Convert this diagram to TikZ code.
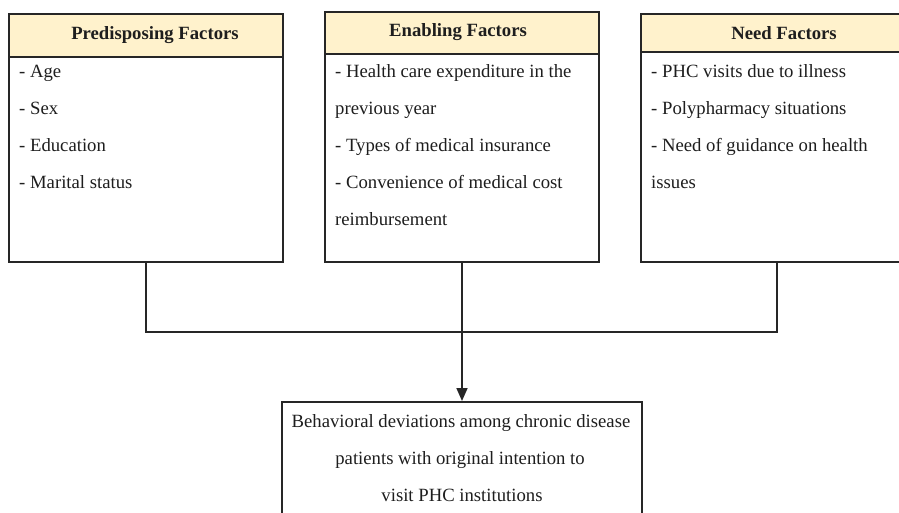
\documentclass[tikz,border=0pt]{standalone}
\usepackage{fontspec}
\setmainfont{Liberation Serif}
\usetikzlibrary{arrows.meta}
\definecolor{hdrfill}{RGB}{255,242,204}
\definecolor{linec}{RGB}{38,38,38}
\definecolor{txtc}{RGB}{30,30,30}
\begin{document}
\begin{tikzpicture}[x=1pt,y=-1pt,
  box/.style={draw=linec, line width=1.7pt, fill=white, rectangle, inner sep=0pt},
  hdr/.style={draw=linec, line width=1.7pt, fill=hdrfill, rectangle, inner sep=0pt},
  htxt/.style={anchor=base, inner sep=0pt, text=txtc, font=\fontsize{18.7}{37}\selectfont\bfseries},
  btxt/.style={anchor=base west, inner sep=0pt, text=txtc, font=\fontsize{18.7}{37}\selectfont},
  ctxt/.style={anchor=base, inner sep=0pt, text=txtc, font=\fontsize{18.7}{37}\selectfont},
  conn/.style={draw=linec, line width=1.7pt},
]
\useasboundingbox (0,0) rectangle (899,512);
\clip (0,0) rectangle (899,512);
\fill[white] (0,0) rectangle (899,512);

\coordinate (j1) at (146,332);
\coordinate (j3) at (777,332);
\coordinate (j2) at (462,332);

% Box 1
\node[box, minimum width=274pt, minimum height=248pt] (b1) at (146,138) {};
\node[hdr, minimum width=274pt, minimum height=43pt, anchor=north] (h1) at (b1.north) {};
\node[htxt] (t1) at (155,39) {Predisposing Factors};
\node[btxt] (a1) at (19,77) {- Age};
\node[btxt] (a2) at (19,114) {- Sex};
\node[btxt] (a3) at (19,151) {- Education};
\node[btxt] (a4) at (19,188) {- Marital status};

% Box 2
\node[box, minimum width=274pt, minimum height=250pt] (b2) at (462,137) {};
\node[hdr, minimum width=274pt, minimum height=42pt, anchor=north] (h2) at (b2.north) {};
\node[htxt] (t2) at (458,36) {Enabling Factors};
\node[btxt] (e1) at (335,77) {- Health care expenditure in the};
\node[btxt] (e2) at (335,114) {previous year};
\node[btxt] (e3) at (335,151) {- Types of medical insurance};
\node[btxt] (e4) at (335,188) {- Convenience of medical cost};
\node[btxt] (e5) at (335,225) {reimbursement};

% Box 3
\node[box, minimum width=272pt, minimum height=248pt] (b3) at (777,138) {};
\node[hdr, minimum width=272pt, minimum height=38pt, anchor=north] (h3) at (b3.north) {};
\node[htxt] (t3) at (784,39) {Need Factors};
\node[btxt] (n1) at (651,77) {- PHC visits due to illness};
\node[btxt] (n2) at (651,114) {- Polypharmacy situations};
\node[btxt] (n3) at (651,151) {- Need of guidance on health};
\node[btxt] (n4) at (651,188) {issues};

% Bottom box
\node[box, minimum width=360pt, minimum height=140pt, anchor=north] (bb) at (462,401) {};
\node[ctxt] (o1) at (461,427) {Behavioral deviations among chronic disease};
\node[ctxt] (o2) at (460,464) {patients with original intention to};
\node[ctxt] (o3) at (462,501) {visit PHC institutions};

% connectors
\draw[conn] (b1.south) -- (j1) -- (j3) -- (b3.south);
\draw[conn, -{Triangle[width=11pt,length=13pt]}] (b2.south) -- (j2) -- (bb.north);
\end{tikzpicture}
\end{document}
